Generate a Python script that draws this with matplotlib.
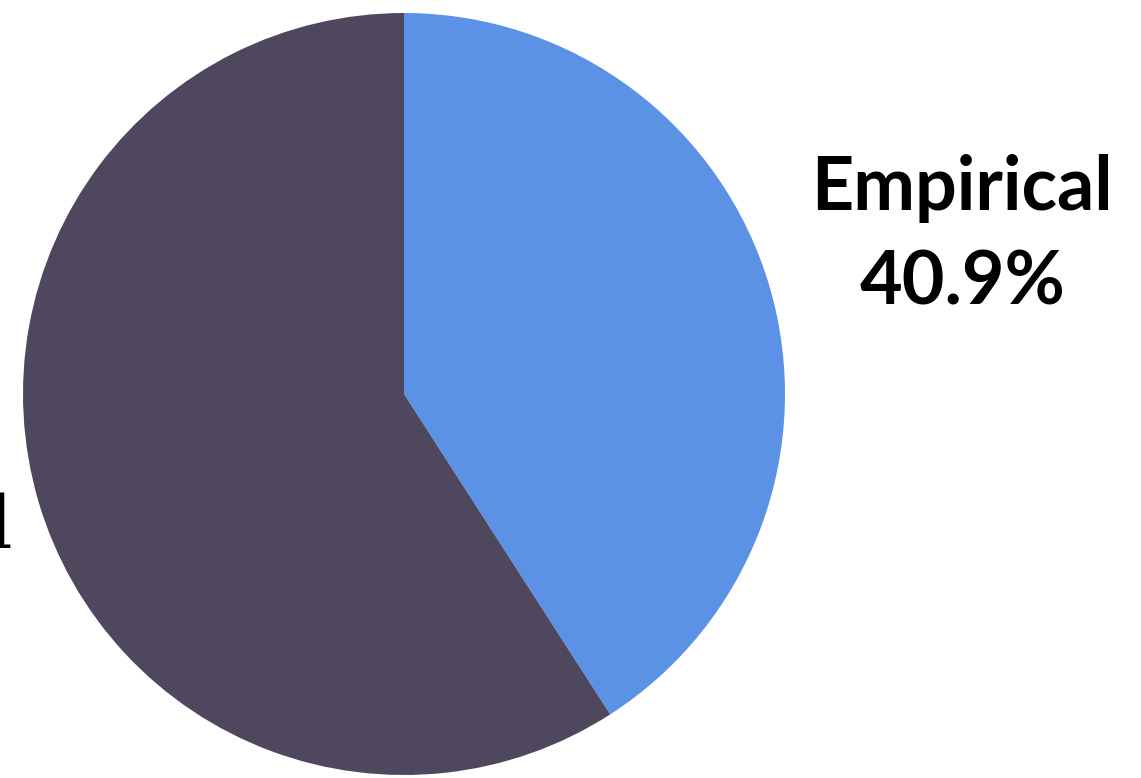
import matplotlib.pyplot as plt

labels = ['Empirical', 'Theoretical']
shares = [40.9, 59.1]
colors = ['#5B92E6', '#4F475E']

fig = plt.figure(figsize=(11.41, 7.78), dpi=100)
# square axes holding the pie, placed so the disc sits where the reference has it
ax = fig.add_axes([23 / 1141, 3 / 778, 762 / 1141, 762 / 778])
ax.pie(shares, colors=colors, startangle=90, counterclock=False, radius=1,
       wedgeprops=dict(linewidth=0))
ax.set_xlim(-1, 1)
ax.set_ylim(-1, 1)
ax.axis('off')

# right label, bold sans, centred lines
ax.text(1.465, 0.483, labels[0], ha='center', va='baseline',
        fontsize=53, fontweight='bold', family=['Lato', 'DejaVu Sans'])
ax.text(1.465, 0.234, f'{shares[0]}%', ha='center', va='baseline',
        fontsize=53, fontweight='bold', family=['Lato', 'DejaVu Sans'])

# left label is mostly cut off by the figure edge
ax.text(-1.028, -0.404, labels[1], ha='right', va='baseline',
        fontsize=52, family=['DejaVu Serif'])
ax.text(-2.2, -0.654, f'{shares[1]}%', ha='center', va='baseline',
        fontsize=52, family=['DejaVu Serif'])

fig.savefig('out.png', dpi=100)
